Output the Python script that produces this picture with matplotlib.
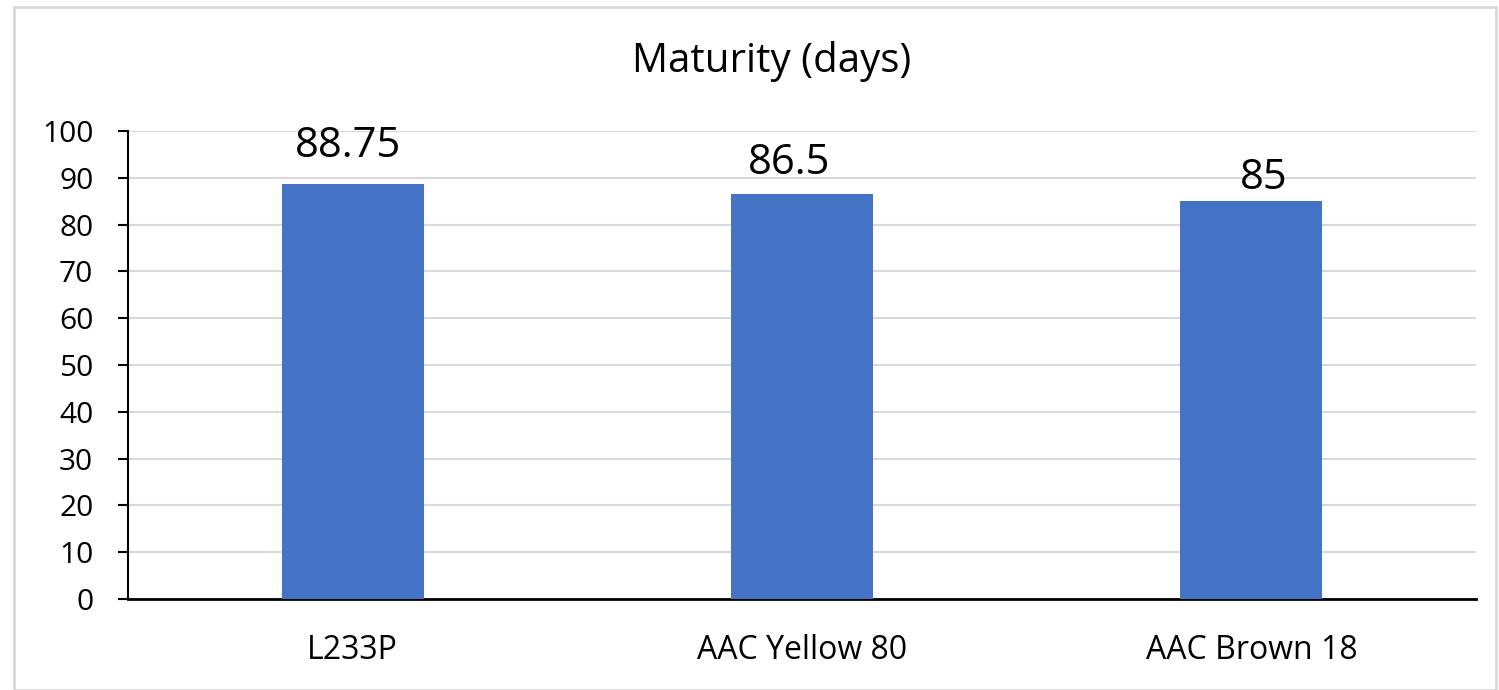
import matplotlib
matplotlib.use("Agg")
import matplotlib.pyplot as plt
from matplotlib.patches import Rectangle

# chart data
varieties = ["L233P", "AAC Yellow 80", "AAC Brown 18"]
maturity = [88.75, 86.5, 85]
y_ticks = [0, 10, 20, 30, 40, 50, 60, 70, 80, 90, 100]

BAR_COLOR = "#4472C4"
GRID_COLOR = "#D9D9D9"
FONT = ["Open Sans", "DejaVu Sans"]
W, H = 1499, 690

plt.rcParams["font.family"] = FONT

fig = plt.figure(figsize=(W / 100, H / 100), dpi=100)
# axes placed in pixel coordinates of the reference
left, right, top, bottom = 128, 1476, 131, 599
ax = fig.add_axes([left / W, 1 - bottom / H, (right - left) / W, (bottom - top) / H])

x = list(range(len(varieties)))
bars = ax.bar(x, maturity, width=0.316, color=BAR_COLOR, zorder=3)

ax.set_xlim(-0.5, len(varieties) - 0.5)
ax.set_ylim(0, 100)
ax.set_yticks(y_ticks)
ax.set_yticklabels([str(t) for t in y_ticks], fontsize=21.5)
ax.set_xticks(x)
ax.set_xticklabels(varieties, fontsize=23)
ax.tick_params(axis="x", length=0, pad=25)
ax.tick_params(axis="y", length=7, width=1.5, pad=18, direction="out")

ax.yaxis.grid(True, color=GRID_COLOR, linewidth=1.5, zorder=0)
for side in ["top", "right"]:
    ax.spines[side].set_visible(False)
ax.spines["left"].set_linewidth(1.5)
ax.spines["bottom"].set_linewidth(2)

# value labels above bars, nudged like the original (points)
label_dx = [-3, -9, 9]
label_dy = [19, 14.5, 9]
for b, v, dx, dy in zip(bars, maturity, label_dx, label_dy):
    ax.annotate(f"{v:g}", (b.get_x() + b.get_width() / 2, v),
                xytext=(dx, dy), textcoords="offset points",
                ha="center", va="baseline", fontsize=30)

fig.text(772 / W, 1 - 72 / H, "Maturity (days)", ha="center", va="baseline",
         fontsize=29)

# light chart border
fig.patches.append(Rectangle((14 / W, 0), (1496 - 14) / W, 1 - 7 / H,
                             transform=fig.transFigure, fill=False,
                             edgecolor="#D9D9D9", linewidth=2))

fig.savefig("out.png", dpi=100)
